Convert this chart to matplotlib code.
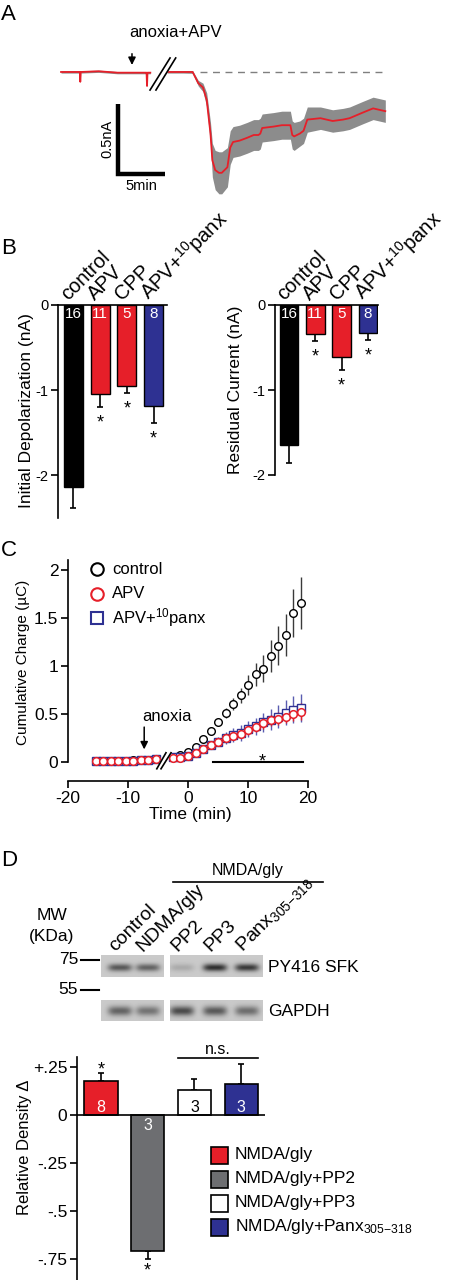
import numpy as np
import matplotlib
matplotlib.use("Agg")
import matplotlib.pyplot as plt
from matplotlib.lines import Line2D
from matplotlib.patches import Rectangle

plt.rcParams['font.family'] = ['Liberation Sans', 'DejaVu Sans']
plt.rcParams['mathtext.fontset'] = 'custom'
plt.rcParams['mathtext.rm'] = 'Liberation Sans'
plt.rcParams['mathtext.it'] = 'Liberation Sans:italic'
plt.rcParams['mathtext.default'] = 'regular'

# ---------------- dados ----------------
# A - corrente media (nA) e SEM ao longo do tempo (min)
pre_t = [0, 2.0, 2.05, 2.1, 4.0, 6.0, 9.0, 9.1, 9.15, 9.2, 9.5]
pre_i = [0, 0, -0.07, 0, 0.005, -0.005, -0.005, -0.005, -0.10, -0.005, -0.005]
pre_sem = [0.008, 0.008, 0.008, 0.008, 0.008, 0.008, 0.008, 0.008, 0.008, 0.008, 0.008]
post_t = [11.3, 13.0, 14.0, 14.6, 15.1, 15.5, 15.9, 16.1, 16.4, 16.8, 17.1, 17.7,
          18.0, 18.3, 19.0, 19.8, 20.5, 21.0, 21.2, 21.4, 22.6, 23.5, 24.4, 24.6,
          24.8, 25.4, 25.8, 26.2, 27.6, 28.9, 30.0, 30.7, 32.1, 33.2, 34.5]
post_i = [0, 0, 0, -0.08, -0.11, -0.20, -0.44, -0.63, -0.70, -0.72, -0.72, -0.68,
          -0.54, -0.50, -0.49, -0.47, -0.45, -0.45, -0.44, -0.40, -0.39, -0.38, -0.38, -0.45,
          -0.46, -0.44, -0.42, -0.34, -0.33, -0.35, -0.34, -0.33, -0.29, -0.26, -0.28]
post_sem = [0.008, 0.008, 0.01, 0.02, 0.03, 0.05, 0.08, 0.12, 0.14, 0.15, 0.15, 0.14,
            0.12, 0.11, 0.11, 0.11, 0.11, 0.11, 0.11, 0.10, 0.10, 0.10, 0.10, 0.10,
            0.10, 0.09, 0.09, 0.09, 0.08, 0.08, 0.08, 0.08, 0.08, 0.08, 0.08]

# B - barras
b_groups = ['control', 'APV', 'CPP', r'APV+$^{10}$panx']
b_n = ['16', '11', '5', '8']
init_vals = [-2.14, -1.05, -0.95, -1.18]
init_sem = [0.24, 0.15, 0.08, 0.20]
init_star = [False, True, True, True]
resid_vals = [-1.65, -0.34, -0.61, -0.33]
resid_sem = [0.21, 0.08, 0.15, 0.08]
resid_star = [False, True, True, True]

# C - carga cumulativa (uC)
times = [-15.4, -14.1, -12.8, -11.6, -10.3, -9.1, -7.8, -6.6, -5.3,
         -2.5, -1.3, 0.0, 1.3, 2.5, 3.8, 5.0, 6.3, 7.5, 8.8, 10.0, 11.3, 12.5,
         13.8, 15.0, 16.3, 17.5, 18.8]
ctrl_q = [0.01, 0.01, 0.01, 0.01, 0.01, 0.02, 0.02, 0.02, 0.03,
          0.05, 0.07, 0.10, 0.15, 0.24, 0.32, 0.41, 0.51, 0.60, 0.69, 0.80, 0.91, 0.97,
          1.10, 1.21, 1.32, 1.55, 1.65]
ctrl_sem = [0.005, 0.005, 0.005, 0.005, 0.005, 0.01, 0.01, 0.01, 0.01,
            0.01, 0.02, 0.02, 0.02, 0.03, 0.03, 0.04, 0.05, 0.06, 0.08, 0.10, 0.12, 0.14,
            0.17, 0.20, 0.22, 0.25, 0.27]
apv_q = [0.01, 0.01, 0.01, 0.01, 0.01, 0.01, 0.02, 0.02, 0.03,
         0.04, 0.04, 0.06, 0.09, 0.13, 0.17, 0.21, 0.25, 0.27, 0.29, 0.33, 0.36, 0.40,
         0.43, 0.45, 0.47, 0.50, 0.52]
apv_sem = [0.005, 0.005, 0.005, 0.005, 0.005, 0.005, 0.005, 0.01, 0.01,
           0.01, 0.01, 0.01, 0.02, 0.02, 0.03, 0.03, 0.04, 0.04, 0.04, 0.05, 0.05, 0.06,
           0.06, 0.07, 0.07, 0.08, 0.09]
panx_q = [0.01, 0.01, 0.01, 0.01, 0.01, 0.01, 0.02, 0.02, 0.03,
          0.05, 0.05, 0.06, 0.09, 0.13, 0.17, 0.21, 0.25, 0.28, 0.30, 0.34, 0.37, 0.41,
          0.44, 0.47, 0.51, 0.54, 0.56]
panx_sem = [0.005, 0.005, 0.005, 0.005, 0.005, 0.005, 0.005, 0.01, 0.01,
            0.01, 0.01, 0.02, 0.02, 0.03, 0.04, 0.05, 0.06, 0.07, 0.08, 0.08, 0.09, 0.10,
            0.11, 0.12, 0.13, 0.14, 0.15]
c_labels = ['control', 'APV', r'APV+$^{10}$panx']

# D - western blot e densitometria
lanes = ['control', 'NDMA/gly', 'PP2', 'PP3', r'Panx$_{305\mathrm{-}318}$']
py416_dens = [0.55, 0.50, 0.15, 0.75, 0.70]
gapdh_dens = [0.50, 0.42, 0.62, 0.55, 0.45]
d_labels = ['NMDA/gly', 'NMDA/gly+PP2', 'NMDA/gly+PP3', r'NMDA/gly+Panx$_{305\mathrm{-}318}$']
d_vals = [0.177, -0.71, 0.13, 0.16]
d_sem = [0.04, 0.04, 0.06, 0.105]
d_n = ['8', '3', '3', '3']

RED = '#e61f29'
BLUE = '#2e3192'
DGRAY = '#6d6e71'

W, H = 450, 1280
fig = plt.figure(figsize=(W / 100, H / 100), dpi=100)


def px_axes(x0, y0, x1, y1):
    return fig.add_axes([x0 / W, 1 - y1 / H, (x1 - x0) / W, (y1 - y0) / H])


def ftext(x, y, s, **kw):
    fig.text(x / W, 1 - y / H, s, **kw)


def fline(xs, ys, **kw):
    fig.add_artist(Line2D([x / W for x in xs], [1 - y / H for y in ys],
                          transform=fig.transFigure, **kw))


# letras dos paineis
for letra, yy in [('A', 15), ('B', 248), ('C', 550), ('D', 860)]:
    ftext(1, yy, letra, fontsize=16, ha='left', va='center')

# ---------------- A ----------------
axA = px_axes(55, 20, 395, 200)
axA.set_xlim(-0.64, 35.53)
axA.set_ylim(-0.914, 0.371)
axA.axis('off')
axA.plot([14.8, 34.3], [0, 0], color='#7f7f7f', lw=1, ls=(0, (5, 4)))
for tt, ii, ss in [(pre_t, pre_i, pre_sem), (post_t, post_i, post_sem)]:
    tt = np.array(tt); ii = np.array(ii); ss = np.array(ss)
    axA.fill_between(tt, ii - ss, ii + ss, color='#8c8c8c', lw=0)
    axA.plot(tt, ii, color=RED, lw=1.3)
# quebra
axA.fill([9.47, 11.6, 12.2, 10.1], [-0.129, 0.1, 0.1, -0.129], color='white', zorder=3)
axA.plot([9.47, 11.6], [-0.129, 0.1], color='k', lw=1.2, zorder=4)
axA.plot([10.1, 12.2], [-0.129, 0.1], color='k', lw=1.2, zorder=4)
axA.annotate('', xy=(7.55, 0.03), xytext=(7.55, 0.15),
             arrowprops=dict(arrowstyle='-|>', color='k', lw=1.1, mutation_scale=11))
axA.text(7.3, 0.279, 'anoxia+APV', ha='left', va='center', fontsize=12)
# barra de escala
axA.plot([6.06, 6.06, 11.06], [-0.23, -0.73, -0.73], color='k', lw=3.2,
         solid_joinstyle='miter', solid_capstyle='butt')
axA.text(4.95, -0.475, '0.5nA', rotation=90, ha='center', va='center', fontsize=10.5)
axA.text(8.6, -0.815, '5min', ha='center', va='center', fontsize=10.5)

# ---------------- B ----------------
b_colors = ['black', RED, RED, BLUE]
paineis_b = [
    ((58, 305, 167, 518), (-0.58, 3.5), (-2.5, 0), init_vals, init_sem, init_star, 26.7, 85.2),
    ((275, 305, 378, 475), (-0.53, 3.38), (-2.0, 0), resid_vals, resid_sem, resid_star, 26.3, 85.0),
]
for box, xl, yl, vals, sem, star, pxu, pyu in paineis_b:
    ax = px_axes(*box)
    x = np.arange(len(vals))
    ax.bar(x, vals, width=0.71, color=b_colors, edgecolor='k', lw=1, zorder=2)
    ax.errorbar(x, vals, yerr=[sem, [0] * len(sem)], fmt='none', ecolor='k',
                elinewidth=1.2, capsize=2, capthick=1.2, zorder=1)
    ax.axhline(0, color='k', lw=1.2, clip_on=False, zorder=3)
    ax.set_xlim(*xl)
    ax.set_ylim(*yl)
    for s in ['top', 'right', 'bottom']:
        ax.spines[s].set_visible(False)
    ax.spines['left'].set_linewidth(1.2)
    ax.set_xticks([])
    ticks = [0, -1, -2]
    ax.set_yticks(ticks)
    ax.set_yticklabels(['0', '-1', '-2'])
    ax.tick_params(axis='y', direction='out', length=5, width=1.2, labelsize=10.5, pad=2)
    for i in range(len(vals)):
        ax.text(x[i] - 5 / pxu, 4 / pyu, b_groups[i], rotation=45, rotation_mode='anchor',
                ha='left', va='baseline', fontsize=14.5, clip_on=False)
        ax.text(x[i], -9 / pyu, b_n[i], color='white', ha='center', va='center', fontsize=11)
        if star[i]:
            ax.text(x[i], vals[i] - sem[i] - 16 / pyu, '*', ha='center', va='center',
                    fontsize=13, clip_on=False)

ftext(27, 411, 'Initial Depolarization (nA)', rotation=90, ha='center', va='center', fontsize=12.5)
ftext(235, 390, 'Residual Current (nA)', rotation=90, ha='center', va='center', fontsize=12.5)

# ---------------- C ----------------
axC = px_axes(68, 560, 308, 781)
axC.set_xlim(-20, 20)
axC.set_ylim(-0.2, 2.1)
axC.spines['top'].set_visible(False)
axC.spines['right'].set_visible(False)
axC.spines['left'].set_bounds(0, 2.1)
axC.spines['left'].set_linewidth(1.2)
axC.spines['bottom'].set_linewidth(1.2)
axC.set_yticks([0, 0.5, 1, 1.5, 2])
axC.set_yticklabels(['0', '0.5', '1', '1.5', '2'])
axC.set_xticks([-20, -10, 0, 10, 20])
axC.set_xticklabels(['-20', '-10', '0', '10', '20'])
axC.tick_params(direction='out', length=5, width=1.2, labelsize=12.5, pad=2)
axC.errorbar(times, ctrl_q, yerr=ctrl_sem, fmt='o', ms=5.5, mfc='white', mec='k', mew=1,
             ecolor='#3a3a3a', elinewidth=1, capsize=0)
axC.errorbar(times, panx_q, yerr=panx_sem, fmt='s', ms=5.5, mfc='white', mec=BLUE, mew=1,
             ecolor='#5a5cb0', elinewidth=1, capsize=0)
axC.errorbar(times, apv_q, yerr=apv_sem, fmt='o', ms=5.5, mfc='white', mec=RED, mew=1.1,
             ecolor=RED, elinewidth=1, capsize=0)
axC.plot([4.2, 19.2], [0, 0], color='k', lw=1.5)
axC.text(12.3, 0.0, '*', ha='center', va='center', fontsize=13)
axC.fill([-5.2, -3.67, -2.83, -4.5], [-0.073, 0.094, 0.094, -0.073], color='white', zorder=5)
axC.plot([-5.2, -3.67], [-0.073, 0.094], color='k', lw=1.2, zorder=6)
axC.plot([-4.5, -2.83], [-0.073, 0.094], color='k', lw=1.2, zorder=6)
axC.annotate('', xy=(-7.3, 0.1), xytext=(-7.3, 0.39),
             arrowprops=dict(arrowstyle='-|>', color='k', lw=1.1, mutation_scale=11))
axC.text(-3.5, 0.47, 'anoxia', ha='center', va='center', fontsize=12)
ftext(190, 815, 'Time (min)', ha='center', va='center', fontsize=12.5)
ftext(23, 662, u'Cumulative Charge (\u00b5C)', rotation=90, ha='center', va='center', fontsize=11)
# legenda C
leg_style = [('o', 'k'), ('o', RED), ('s', BLUE)]
for (mk, cor), lab, yy in zip(leg_style, c_labels, [569, 594, 618]):
    fig.add_artist(Line2D([97 / W], [1 - yy / H], marker=mk, ms=9, mfc='white', mec=cor,
                          mew=1.5, ls='none', transform=fig.transFigure))
    ftext(112, yy, lab, ha='left', va='center', fontsize=12)

# ---------------- D - blot ----------------
ftext(248, 871, 'NMDA/gly', ha='center', va='center', fontsize=11.5)
fline([173, 323], [882, 882], color='k', lw=1.2)
lane_px = [120, 148, 182, 215, 247]
for lx, lab in zip(lane_px, lanes):
    ftext(lx - 5, 952, lab, rotation=45, rotation_mode='anchor', ha='left', va='baseline',
          fontsize=14)
ftext(52, 916, 'MW', ha='center', va='center', fontsize=12.5)
ftext(52, 936, '(KDa)', ha='center', va='center', fontsize=12.5)
for mw, yy in [('75', 960), ('55', 990)]:
    ftext(78, yy, mw, ha='right', va='center', fontsize=12.5)
    fline([81, 99], [yy, yy], color='k', lw=1.5)


def blot(box, lane_x, dens, yc, hh):
    x0, y0, x1, y1 = box
    ax = px_axes(x0, y0, x1, y1)
    w, h = x1 - x0, y1 - y0
    xx = np.arange(w) + 0.5
    yy = np.arange(h) + 0.5
    img = np.full((h, w), 0.79)
    for lx, d in zip(lane_x, dens):
        prof_x = np.exp(-((xx - (lx - x0)) / 12) ** 4)
        prof_y = np.exp(-((yy - yc * h) / hh) ** 2)
        img -= d * 0.8 * prof_y[:, None] * prof_x[None, :]
    ax.imshow(img, cmap='gray', vmin=0, vmax=1, aspect='auto', interpolation='bilinear')
    ax.axis('off')


blot((101, 955, 164, 977), lane_px[:2], py416_dens[:2], 0.57, 3.8)
blot((170, 955, 263, 977), lane_px[2:], py416_dens[2:], 0.57, 3.8)
blot((101, 1000, 164, 1021), lane_px[:2], gapdh_dens[:2], 0.52, 4.8)
blot((170, 1000, 263, 1021), lane_px[2:], gapdh_dens[2:], 0.52, 4.8)
ftext(268, 968, 'PY416 SFK', ha='left', va='center', fontsize=12.5)
ftext(268, 1011, 'GAPDH', ha='left', va='center', fontsize=12.5)

# ---------------- D - barras ----------------
axD = px_axes(77, 1057, 265, 1280)
pyd = 192.0
xd = np.arange(len(d_vals))
d_colors = [RED, DGRAY, 'white', BLUE]
axD.bar(xd, d_vals, width=0.71, color=d_colors, edgecolor='k', lw=1.2, zorder=2)
err_lo = [s if v < 0 else 0 for v, s in zip(d_vals, d_sem)]
err_hi = [s if v > 0 else 0 for v, s in zip(d_vals, d_sem)]
axD.errorbar(xd, d_vals, yerr=[err_lo, err_hi], fmt='none', ecolor='k', elinewidth=1.2,
             capsize=2.5, capthick=1.2, zorder=1)
axD.axhline(0, color='k', lw=1.2, zorder=3)
axD.set_xlim(-0.514, 3.51)
axD.set_ylim(-0.859, 0.302)
for s in ['top', 'right', 'bottom']:
    axD.spines[s].set_visible(False)
axD.spines['left'].set_linewidth(1.2)
axD.set_xticks([])
axD.set_yticks([0.25, 0, -0.25, -0.5, -0.75])
axD.set_yticklabels(['+.25', '0', '-.25', '-.5', '-.75'])
axD.tick_params(axis='y', direction='out', length=5, width=1.2, labelsize=12.5, pad=2)
n_cor = ['white', 'white', 'black', 'white']
for i, v in enumerate(d_vals):
    ny = 8 / pyd if v > 0 else -10 / pyd
    axD.text(xd[i], ny, d_n[i], color=n_cor[i], ha='center', va='center', fontsize=11.5)
axD.text(xd[0], d_vals[0] + d_sem[0] + 3 / pyd, '*', ha='center', va='center', fontsize=13,
         clip_on=False)
axD.text(xd[1], d_vals[1] - d_sem[1] - 12 / pyd, '*', ha='center', va='center', fontsize=13,
         clip_on=False)
axD.plot([1.65, 3.36], [0.297, 0.297], color='k', lw=1.2, clip_on=False)
axD.text(2.5, 0.34, 'n.s.', ha='center', va='center', fontsize=11.5, clip_on=False)
ftext(25, 1147, u'Relative Density \u0394', rotation=90, ha='center', va='center', fontsize=12)
for cor, lab, yy in zip(d_colors, d_labels, [1155, 1179, 1203, 1227]):
    fig.add_artist(Rectangle((211 / W, 1 - (yy + 8.5) / H), 17 / W, 17 / H,
                             transform=fig.transFigure, facecolor=cor, edgecolor='k', lw=1.2))
    ftext(235, yy, lab, ha='left', va='center', fontsize=12.5)

fig.savefig('out.png', dpi=100)
